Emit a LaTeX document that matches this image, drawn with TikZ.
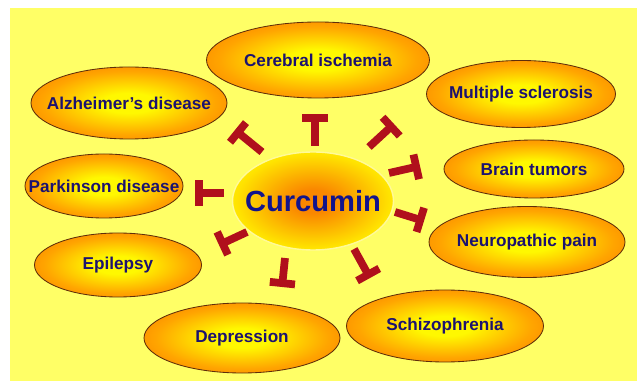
\documentclass[tikz,border=0pt]{standalone}
\usepackage{fontspec}
\setmainfont{Liberation Sans}
\usepackage{xcolor}
\usepackage{tikz}
\usetikzlibrary{arrows.meta,shapes.geometric}

\definecolor{bgyellow}{RGB}{255,255,102}
\definecolor{glowin}{RGB}{255,248,0}
\definecolor{glowmid}{RGB}{255,165,0}
\definecolor{glowout}{RGB}{250,112,0}
\definecolor{glowrim}{RGB}{240,96,0}
\definecolor{curin}{RGB}{250,135,0}
\definecolor{curmid}{RGB}{255,228,0}
\definecolor{curout}{RGB}{255,255,20}
\definecolor{rimbrown}{RGB}{95,45,10}
\definecolor{navytext}{RGB}{28,18,112}
\definecolor{curtext}{RGB}{18,20,140}
\definecolor{inhred}{RGB}{176,16,28}

\pgfdeclareradialshading{diseaseglow}{\pgfpoint{0bp}{0bp}}{%
  color(0bp)=(glowin); color(7bp)=(glowin); color(22bp)=(glowmid);
  color(36bp)=(glowout); color(50bp)=(glowrim); color(72bp)=(glowrim)}
\pgfdeclareradialshading{curglow}{\pgfpoint{0bp}{0bp}}{%
  color(0bp)=(curin); color(6bp)=(curin); color(24bp)=(curmid);
  color(40bp)=(curout); color(50bp)=(curout); color(72bp)=(curout)}

% text that does not widen its oval
\newcommand{\inoval}[1]{\makebox[0pt]{#1}}

\begin{document}
\begin{tikzpicture}[
  x=0.025cm, y=0.025cm,
  wh/.style 2 args={minimum width=#1*0.025cm, minimum height=#2*0.025cm},
  disease/.style={ellipse, draw=rimbrown, line width=0.6pt, shading=diseaseglow,
    inner sep=0pt, text=navytext, font=\fontsize{12.2}{14}\selectfont\bfseries},
  drug/.style={ellipse, draw=white!60!yellow, line width=1pt, shading=curglow,
    inner sep=0pt, text=curtext, font=\fontsize{20.7}{24}\selectfont\bfseries},
  inh/.style={draw=inhred, line width=5.5pt, -{Bar[width=18pt]}}
]
\useasboundingbox (0,0) rectangle (637,381);
\fill[bgyellow] (10,0) rectangle (637,373);

% centre
\node[drug, wh={161}{98}] (cur) at (313,180) {\inoval{Curcumin}};

% diseases, clockwise from the top
\node[disease, wh={223}{76}] (cere) at (318,321) {\inoval{Cerebral ischemia}};
\node[disease, wh={189}{67}] (ms) at (521,287) {\inoval{Multiple sclerosis}};
\node[disease, wh={180}{58}] (tumor) at (534,212) {\inoval{Brain tumors}};
\node[disease, wh={196}{71}] (neuro) at (527,139) {\inoval{Neuropathic pain}};
\node[disease, wh={197}{72}] (schizo) at (445,55) {\inoval{Schizophrenia}};
\node[disease, wh={196}{70}] (depr) at (242,43) {\inoval{Depression}};
\node[disease, wh={167}{64}] (epil) at (118,116) {\inoval{Epilepsy}};
\node[disease, wh={158}{64}] (park) at (104,195) {\inoval{Parkinson disease}};
\node[disease, wh={196}{72}] (alz) at (129,278) {\inoval{Alzheimer's disease}};

% inhibition marks
\coordinate (s1) at (315,235); \coordinate (e1) at (315,267);
\coordinate (s2) at (262,229); \coordinate (e2) at (235,251);
\coordinate (s3) at (369,234); \coordinate (e3) at (394,257);
\coordinate (s4) at (389,208); \coordinate (e4) at (420,215);
\coordinate (s5) at (395,169); \coordinate (e5) at (424,160);
\coordinate (s6) at (354,132); \coordinate (e6) at (370,103);
\coordinate (s7) at (285,123); \coordinate (e7) at (282,94);
\coordinate (s8) at (247,149); \coordinate (e8) at (219,136);
\coordinate (s9) at (224,188); \coordinate (e9) at (195,188);
\draw[inh] (s1) -- (e1);
\draw[inh] (s2) -- (e2);
\draw[inh] (s3) -- (e3);
\draw[inh] (s4) -- (e4);
\draw[inh] (s5) -- (e5);
\draw[inh] (s6) -- (e6);
\draw[inh] (s7) -- (e7);
\draw[inh] (s8) -- (e8);
\draw[inh] (s9) -- (e9);
\end{tikzpicture}
\end{document}
